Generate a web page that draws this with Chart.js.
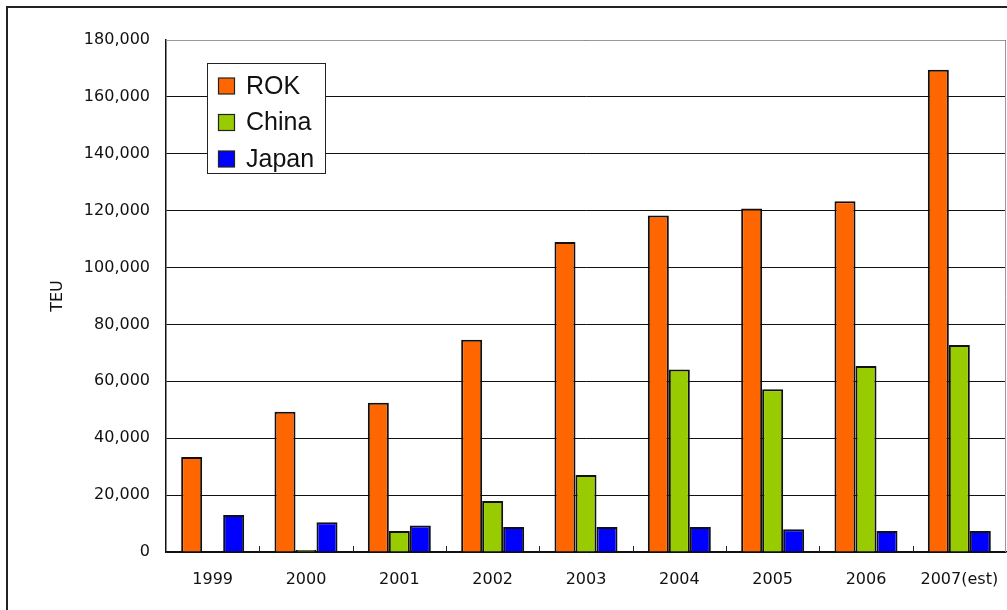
<!DOCTYPE html>
<html>
<head>
<meta charset="utf-8">
<script src="https://cdn.jsdelivr.net/npm/chart.js@4"></script>
<style>
    html, body { margin: 0; padding: 0; background: #fff; overflow: hidden; }
    #wrap { position: relative; width: 1007px; height: 610px; }
    #marco { position: absolute; left: 6px; top: 6px; width: 1100px; height: 700px; border: 2px solid #222; pointer-events: none; }
</style>
</head>
<body>
<div id="wrap">
    <canvas id="teu-chart" width="1007" height="610"></canvas>
    <div id="marco"></div>
</div>
<script>
var anios = ['1999', '2000', '2001', '2002', '2003', '2004', '2005', '2006', '2007(est)'];
var valoresROK = [33400, 49300, 52500, 74600, 109000, 118300, 120800, 123300, 169500];
var valoresChina = [0, 700, 7400, 17900, 27100, 64200, 57200, 65400, 72800];
var valoresJapon = [13000, 10500, 9300, 8800, 8800, 8800, 8000, 7400, 7400];
var ticksY = [0, 20000, 40000, 60000, 80000, 100000, 120000, 140000, 160000, 180000];

// leyenda dentro del area del grafico, borde gris arriba/derecha y marcas entre categorias
var extrasPlugin = {
    id: 'extras',
    afterDatasetsDraw: function (chart) {
        var ctx = chart.ctx;
        var area = chart.chartArea;
        ctx.save();

        // marcas cortas hacia dentro entre categorias
        ctx.strokeStyle = '#222';
        ctx.lineWidth = 1;
        var paso = (area.right - area.left) / anios.length;
        for (var i = 1; i < anios.length; i++) {
            var px = Math.round(area.left + paso * i) + 0.5;
            ctx.beginPath();
            ctx.moveTo(px, area.bottom);
            ctx.lineTo(px, area.bottom - 6);
            ctx.stroke();
        }

        // borde superior y derecho en gris
        ctx.strokeStyle = '#999';
        ctx.beginPath();
        ctx.moveTo(area.left, area.top + 0.5);
        ctx.lineTo(area.right - 0.5, area.top + 0.5);
        ctx.lineTo(area.right - 0.5, area.bottom);
        ctx.stroke();

        // leyenda
        ctx.fillStyle = '#fff';
        ctx.fillRect(207, 63, 118, 110);
        ctx.strokeStyle = '#222';
        ctx.strokeRect(207.5, 63.5, 118, 110);
        ctx.font = '25px "Liberation Sans", Arial, sans-serif';
        ctx.textBaseline = 'middle';
        ctx.textAlign = 'left';
        chart.data.datasets.forEach(function (ds, j) {
            var cy = 86 + j * 36.5;
            ctx.fillStyle = ds.backgroundColor;
            ctx.fillRect(218.5, cy - 8, 16, 16);
            ctx.strokeStyle = '#222';
            ctx.lineWidth = 1.2;
            ctx.strokeRect(218.5, cy - 8, 16, 16);
            ctx.fillStyle = '#111';
            ctx.fillText(ds.label, 246, cy + 1);
        });
        ctx.restore();
    }
};

var teuChart = new Chart(document.getElementById('teu-chart').getContext('2d'), {
    type: 'bar',
    data: {
        labels: anios,
        datasets: [
            { label: 'ROK', data: valoresROK, backgroundColor: '#FF6600', borderColor: '#111', borderWidth: 2 },
            { label: 'China', data: valoresChina, backgroundColor: '#99CC00', borderColor: '#111', borderWidth: 2 },
            { label: 'Japan', data: valoresJapon, backgroundColor: '#0000FF', borderColor: '#111', borderWidth: 2 }
        ]
    },
    options: {
        responsive: false,
        animation: false,
        devicePixelRatio: 1,
        categoryPercentage: 0.675,
        barPercentage: 1,
        layout: { padding: { top: 40, right: 1, left: 0, bottom: 0 } },
        plugins: {
            legend: { display: false },
            tooltip: { enabled: false }
        },
        scales: {
            x: {
                grid: { display: false, drawTicks: false },
                border: { display: true, color: '#111', width: 1.5 },
                ticks: {
                    color: '#111',
                    padding: 18,
                    maxRotation: 0,
                    font: { family: '"DejaVu Sans", sans-serif', size: 16 }
                },
                afterFit: function (scale) {
                    scale.height = 58;
                    scale.paddingLeft = 0;
                    scale.paddingRight = 0;
                }
            },
            y: {
                min: 0,
                max: 180000,
                afterBuildTicks: function (scale) {
                    scale.ticks = ticksY.map(function (v) { return { value: v }; });
                },
                grid: { color: '#111', lineWidth: 1, drawTicks: false },
                border: { display: true, color: '#111', width: 1.5 },
                ticks: {
                    color: '#111',
                    padding: 16,
                    font: { family: '"DejaVu Sans", sans-serif', size: 16 },
                    callback: function (v) { return v.toLocaleString('en-US'); }
                },
                title: {
                    display: true,
                    text: 'TEU',
                    color: '#111',
                    padding: { top: 48 },
                    font: { family: '"DejaVu Sans", sans-serif', size: 16 }
                },
                afterFit: function (scale) {
                    scale.width = 166;
                    scale.paddingTop = 0;
                    scale.paddingBottom = 0;
                }
            }
        }
    },
    plugins: [extrasPlugin]
});
</script>
</body>
</html>
